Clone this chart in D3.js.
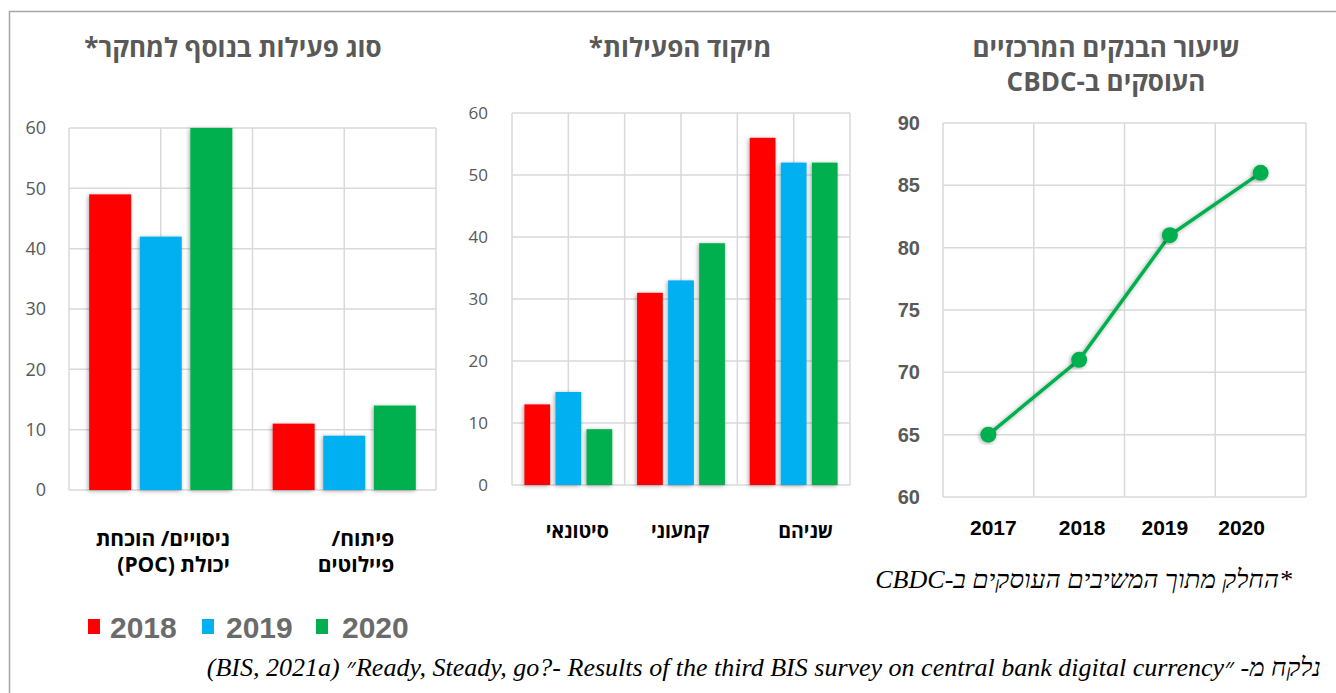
<!DOCTYPE html>
<html>
<head>
<meta charset="utf-8">
<script src="https://cdn.jsdelivr.net/npm/d3@7"></script>
<style>
  body { margin: 0; background: #fff; }
  svg { display: block; }
</style>
</head>
<body>
<script>
// data
var years = ['2018', '2019', '2020'];
var activityCats = [['ניסויים/ הוכחת', 'יכולת (POC)'], ['פיתוח/', 'פיילוטים']];
var activity2018 = [49, 11];
var activity2019 = [42, 9];
var activity2020 = [60, 14];

var focusCats = [['סיטונאי'], ['קמעוני'], ['שניהם']];
var focus2018 = [13, 31, 56];
var focus2019 = [15, 33, 52];
var focus2020 = [9, 39, 52];

var lineYears = ['2017', '2018', '2019', '2020'];
var lineValues = [65, 71, 81, 86];
var barTicks = [0, 10, 20, 30, 40, 50, 60];
var lineTicks = [60, 65, 70, 75, 80, 85, 90];

var colors = ['#ff0000', '#00b0f0', '#00b050'];
var grid = '#d9d9d9';
var sans = "'Open Sans', 'DejaVu Sans', sans-serif";
var arial = "'Liberation Sans', Arial, sans-serif";
var serif = "'Liberation Serif', 'Times New Roman', serif";

var svg = d3.select('body').append('svg').attr('width', 1336).attr('height', 693);

var f = svg.append('defs').append('filter').attr('id', 'shadow')
  .attr('x', '-30%').attr('y', '-10%').attr('width', '160%').attr('height', '120%');
f.append('feDropShadow').attr('dx', -1).attr('dy', 1).attr('stdDeviation', 2)
  .attr('flood-color', '#000').attr('flood-opacity', 0.35);

// frame
svg.append('rect').attr('x', 9.5).attr('y', 11.5).attr('width', 1340).attr('height', 700)
  .style('fill', 'none').style('stroke', '#a6a6a6').style('stroke-width', 1.5);

function barChart(o) {
  var g = svg.append('g');
  var y = d3.scaleLinear().domain([0, 60]).range([o.y0, o.y1]);
  var x0 = d3.scaleBand().domain(d3.range(o.cats.length)).range([o.x0, o.x1]);
  var x1 = d3.scaleBand().domain(years)
    .range([x0.bandwidth() * 0.11, x0.bandwidth() * 0.89]).paddingInner(0.17);

  // grid
  g.selectAll('.hg').data(barTicks).enter().append('line')
    .attr('x1', o.x0).attr('x2', o.x1).attr('y1', y).attr('y2', y)
    .style('stroke', grid).style('stroke-width', 1.5);
  var vx = d3.range(o.cats.length * 2 + 1).map(function(i) { return o.x0 + i * x0.bandwidth() / 2; });
  g.selectAll('.vg').data(vx).enter().append('line')
    .attr('x1', function(d) { return d; }).attr('x2', function(d) { return d; })
    .attr('y1', o.y1).attr('y2', o.y0)
    .style('stroke', grid).style('stroke-width', 1.5);

  var ax = g.append('g').attr('transform', 'translate(' + (o.x0 - o.tickPad) + ',0)')
    .call(d3.axisLeft(y).tickValues(barTicks).tickSize(0).tickPadding(0));
  ax.select('.domain').remove();
  ax.selectAll('text').style('font-family', sans).style('font-size', o.tickSize + 'px')
    .style('fill', '#595959');

  var series = [o.v2018, o.v2019, o.v2020];
  o.cats.forEach(function(c, i) {
    var cg = g.append('g').attr('transform', 'translate(' + x0(i) + ',0)');
    cg.selectAll('rect').data(years).enter().append('rect')
      .attr('x', function(d) { return x1(d); })
      .attr('width', x1.bandwidth())
      .attr('y', function(d, j) { return y(series[j][i]); })
      .attr('height', function(d, j) { return o.y0 - y(series[j][i]); })
      .style('fill', function(d, j) { return colors[j]; })
      .attr('filter', 'url(#shadow)');
  });

  // category labels
  o.cats.forEach(function(c, i) {
    var lx = x0(i) + x0.bandwidth() / 2 + o.labelDx[i];
    var t = g.append('text')
      .attr('y', o.labelY)
      .attr('direction', 'rtl')
      .attr('text-anchor', o.labelAnchor)
      .style('font-family', sans).style('font-weight', 'bold')
      .style('font-size', o.labelSize + 'px').style('fill', '#000');
    c.forEach(function(line, k) {
      t.append('tspan').attr('x', lx)
        .attr('dy', k === 0 ? 0 : 26).text(line);
    });
  });

  g.append('text').attr('x', o.titleX).attr('y', 57).attr('text-anchor', 'middle')
    .attr('direction', 'rtl')
    .style('font-family', sans).style('font-weight', 'bold').style('font-size', '26px')
    .style('fill', '#595959').text(o.title);
}

barChart({
  cats: activityCats, v2018: activity2018, v2019: activity2019, v2020: activity2020,
  x0: 69, x1: 436, y0: 490, y1: 128, tickPad: 23, tickSize: 18,
  labelY: 546, labelSize: 21, labelDx: [69, 50], labelAnchor: 'start',
  title: 'סוג פעילות בנוסף למחקר*', titleX: 233
});

barChart({
  cats: focusCats, v2018: focus2018, v2019: focus2019, v2020: focus2020,
  x0: 512, x1: 850, y0: 485, y1: 113, tickPad: 24, tickSize: 17,
  labelY: 538, labelSize: 19.5, labelDx: [9, -1, 12], labelAnchor: 'middle',
  title: 'מיקוד הפעילות*', titleX: 680
});

// legend
var lg = svg.append('g').attr('transform', 'translate(88,627)');
var lx = d3.scalePoint().domain(years).range([0, 228]);
years.forEach(function(yr, i) {
  lg.append('rect').attr('x', lx(yr)).attr('y', -8).attr('width', 12).attr('height', 15)
    .style('fill', colors[i]);
  lg.append('text').attr('x', lx(yr) + 22 + i * 2).attr('y', 11)
    .style('font-family', arial).style('font-weight', 'bold').style('font-size', '30px')
    .style('fill', '#6b6b6b').text(yr);
});

// line chart
(function() {
  var g = svg.append('g');
  var x = d3.scaleBand().domain(lineYears).range([943, 1306]);
  var y = d3.scaleLinear().domain([60, 90]).range([497, 123]);
  var labelDx = [5, 3, -5, -19];

  g.selectAll('.hg').data(lineTicks).enter().append('line')
    .attr('x1', 943).attr('x2', 1306).attr('y1', y).attr('y2', y)
    .style('stroke', grid).style('stroke-width', 1.5);
  var vx = lineYears.map(function(d) { return x(d); }).concat([1306]);
  g.selectAll('.vg').data(vx).enter().append('line')
    .attr('x1', function(d) { return d; }).attr('x2', function(d) { return d; })
    .attr('y1', 123).attr('y2', 497)
    .style('stroke', grid).style('stroke-width', 1.5);

  var ax = g.append('g').attr('transform', 'translate(920,0)')
    .call(d3.axisLeft(y).tickValues(lineTicks).tickSize(0).tickPadding(0));
  ax.select('.domain').remove();
  ax.selectAll('text').style('font-family', arial).style('font-weight', 'bold')
    .style('font-size', '20px').style('fill', '#595959');

  var xa = g.append('g').attr('transform', 'translate(0,497)')
    .call(d3.axisBottom(x).tickSize(0).tickPadding(23));
  xa.select('.domain').remove();
  xa.selectAll('text').style('font-family', arial).style('font-weight', 'bold')
    .style('font-size', '21px').style('fill', '#000')
    .attr('dx', function(d, i) { return labelDx[i]; });

  var pts = lineYears.map(function(d, i) { return [x(d) + x.bandwidth() / 2, y(lineValues[i])]; });
  g.append('path').datum(pts).attr('d', d3.line())
    .style('fill', 'none').style('stroke', '#00b050').style('stroke-width', 3.5)
    .attr('filter', 'url(#shadow)');
  g.selectAll('circle').data(pts).enter().append('circle')
    .attr('cx', function(d) { return d[0]; }).attr('cy', function(d) { return d[1]; })
    .attr('r', 8).style('fill', '#00b050').attr('filter', 'url(#shadow)');

  var t = g.append('text').attr('text-anchor', 'middle').attr('direction', 'rtl')
    .style('font-family', sans).style('font-weight', 'bold').style('font-size', '26px')
    .style('fill', '#595959');
  t.append('tspan').attr('x', 1106).attr('y', 57).text('שיעור הבנקים המרכזיים');
  t.append('tspan').attr('x', 1106).attr('y', 91).text('העוסקים ב-CBDC');
})();

// notes
svg.append('text').attr('x', 1292).attr('y', 588).attr('direction', 'rtl')
  .attr('text-anchor', 'start')
  .style('font-family', serif).style('font-style', 'italic').style('font-size', '26px')
  .style('fill', '#000').text('*החלק מתוך המשיבים העוסקים ב-CBDC');

svg.append('text').attr('x', 1321).attr('y', 676).attr('direction', 'rtl')
  .attr('text-anchor', 'start')
  .style('font-family', serif).style('font-style', 'italic').style('font-size', '26px')
  .style('fill', '#000')
  .text('נלקח מ- ״Ready, Steady, go?- Results of the third BIS survey on central bank digital currency״ (BIS, 2021a)');
</script>
</body>
</html>
